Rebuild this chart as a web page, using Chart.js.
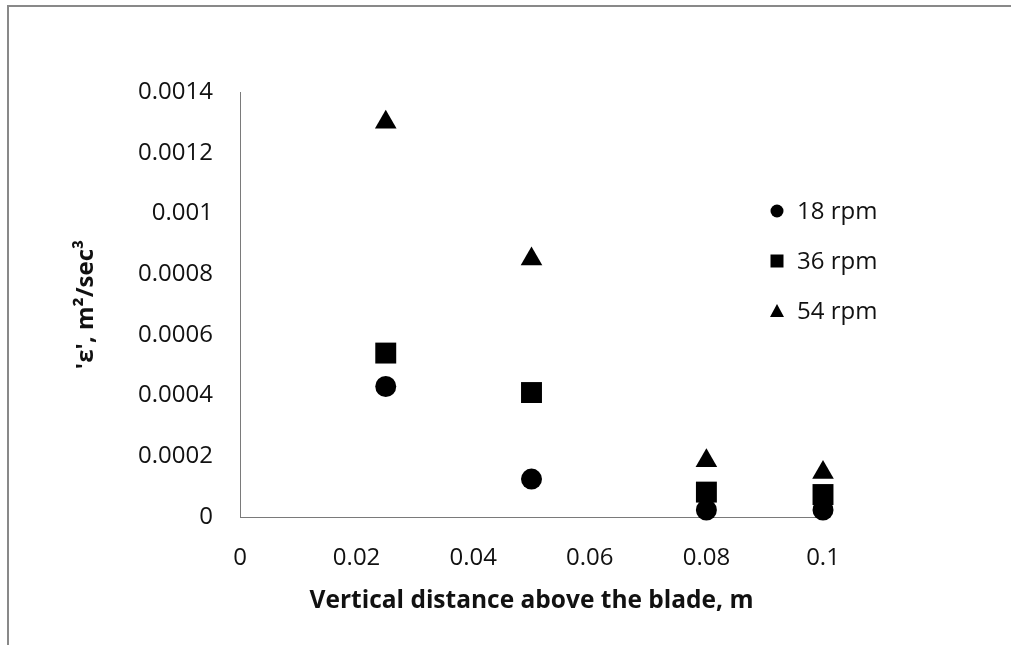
<!DOCTYPE html>
<html>
<head>
<meta charset="utf-8">
<script src="https://cdn.jsdelivr.net/npm/chart.js@4.4.1/dist/chart.umd.min.js"></script>
<style>
  html, body { margin: 0; padding: 0; background: #fff; }
  #wrap { position: relative; width: 1011px; height: 645px; overflow: hidden; }
  #chart { position: absolute; left: 0; top: 0; }
  /* thin grey frame, only top and left edges show in the original */
  #frame {
    position: absolute; left: 7px; top: 5px; right: -20px; bottom: -20px;
    border-top: 2px solid #898989; border-left: 2px solid #898989;
    pointer-events: none;
  }
</style>
</head>
<body>
<div id="wrap">
  <canvas id="chart" width="1011" height="645"></canvas>
  <div id="frame"></div>
</div>
<script>
// distance above the blade (m)
const distances = [0.025, 0.05, 0.08, 0.1];

// 'ε' values (m2/sec3) per impeller speed
const rpm18 = [0.00043, 0.000125, 0.000023, 0.000023];
const rpm36 = [0.00054, 0.00041, 0.000082, 0.000074];
const rpm54 = [0.0013, 0.00085, 0.000185, 0.000147];

const seriesLabels = ["18 rpm", "36 rpm", "54 rpm"];

const xTickLabels = ["0", "0.02", "0.04", "0.06", "0.08", "0.1"];
const yTickLabels = ["0", "0.0002", "0.0004", "0.0006", "0.0008", "0.001", "0.0012", "0.0014"];

const xTitle = "Vertical distance above the blade, m";
const yTitle = "'ε', m²/sec³";

const FONT = "'Open Sans', 'Liberation Sans', sans-serif";
const TEXT = "#111";
const AXIS = "#7a7a7a";

const toPoints = (ys) => distances.map((x, i) => ({ x, y: ys[i] }));

// legend drawn inside the plot, right side, like the Excel overlay legend
const insideLegend = {
  id: "insideLegend",
  afterDatasetsDraw(chart) {
    const { ctx, chartArea } = chart;
    const x = chartArea.right - 46;
    ctx.save();
    ctx.font = "24px " + FONT;
    ctx.textBaseline = "middle";
    chart.data.datasets.forEach((ds, i) => {
      const y = chartArea.top + 119 + i * 50;
      ctx.fillStyle = "#000";
      ctx.beginPath();
      if (ds.pointStyle === "circle") {
        ctx.arc(x, y, 6.5, 0, Math.PI * 2);
      } else if (ds.pointStyle === "rect") {
        ctx.rect(x - 6.5, y - 6.5, 13, 13);
      } else {
        ctx.moveTo(x, y - 7);
        ctx.lineTo(x + 7, y + 6);
        ctx.lineTo(x - 7, y + 6);
        ctx.closePath();
      }
      ctx.fill();
      ctx.fillStyle = TEXT;
      ctx.fillText(ds.label, x + 20, y + 1);
    });
    ctx.restore();
  }
};

new Chart(document.getElementById("chart"), {
  type: "scatter",
  data: {
    datasets: [
      {
        label: seriesLabels[0],
        data: toPoints(rpm18),
        pointStyle: "circle",
        pointRadius: 10.5,
        pointHoverRadius: 10.5,
        pointBackgroundColor: "#000",
        pointBorderWidth: 0,
        clip: false,
      },
      {
        label: seriesLabels[1],
        data: toPoints(rpm36),
        pointStyle: "rect",
        pointRadius: 14.8,
        pointHoverRadius: 14.8,
        pointBackgroundColor: "#000",
        pointBorderWidth: 0,
        clip: false,
      },
      {
        label: seriesLabels[2],
        data: toPoints(rpm54),
        pointStyle: "triangle",
        pointRadius: 12.5,
        pointHoverRadius: 12.5,
        pointBackgroundColor: "#000",
        pointBorderWidth: 0,
        clip: false,
      },
    ],
  },
  options: {
    responsive: false,
    animation: false,
    layout: {
      padding: { top: 92, right: 188, bottom: 20, left: 60 },
    },
    plugins: {
      legend: { display: false },
      tooltip: { enabled: false },
    },
    scales: {
      x: {
        type: "linear",
        min: 0,
        max: 0.1,
        afterFit: (s) => { s.height = 108; },
        grid: { display: false, drawTicks: false },
        border: { display: true, color: AXIS, width: 1 },
        ticks: {
          stepSize: 0.02,
          padding: 27,
          color: TEXT,
          font: { family: FONT, size: 24 },
          callback: (v, i) => xTickLabels[i] ?? String(v),
        },
        title: {
          display: true,
          text: xTitle,
          color: TEXT,
          font: { family: FONT, size: 24.5, weight: "bold" },
          padding: { top: 0, bottom: 9 },
        },
      },
      y: {
        type: "linear",
        min: 0,
        max: 0.0014,
        afterFit: (s) => { s.width = 180; },
        grid: { display: false, drawTicks: false },
        border: { display: true, color: AXIS, width: 1 },
        ticks: {
          stepSize: 0.0002,
          padding: 27,
          color: TEXT,
          font: { family: FONT, size: 24 },
          callback: (v, i) => yTickLabels[i] ?? String(v),
        },
        title: {
          display: true,
          text: yTitle,
          color: TEXT,
          font: { family: FONT, size: 24, weight: "bold" },
          padding: { top: 12, bottom: 0 },
        },
      },
    },
  },
  plugins: [insideLegend],
});
</script>
</body>
</html>
